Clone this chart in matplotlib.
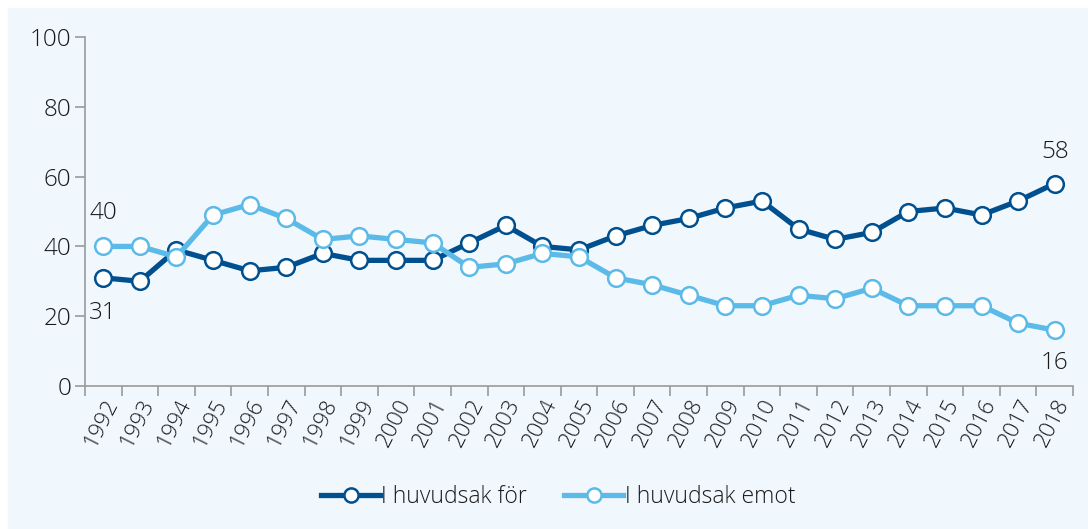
import numpy as np
import matplotlib.pyplot as plt

years = [str(y) for y in range(1992, 2019)]
for_values = [31, 30, 39, 36, 33, 34, 38, 36, 36, 36, 41, 46, 40, 39, 43, 46,
              48, 51, 53, 45, 42, 44, 50, 51, 49, 53, 58]
emot_values = [40, 40, 37, 49, 52, 48, 42, 43, 42, 41, 34, 35, 38, 37, 31, 29,
               26, 23, 23, 26, 25, 28, 23, 23, 23, 18, 16]
series_names = ["I huvudsak för", "I huvudsak emot"]

DARK = "#00508F"
LIGHT = "#5CBAE8"
BG = "#F0F8FE"
GRAY = "#9A9A9A"

plt.rcParams['font.family'] = ['Open Sans', 'DejaVu Sans']
plt.rcParams['font.weight'] = 'light'
plt.rcParams['text.color'] = '#1A1A1A'
plt.rcParams['xtick.color'] = '#1A1A1A'
plt.rcParams['ytick.color'] = '#1A1A1A'

fig = plt.figure(figsize=(10.88, 5.29), dpi=100, facecolor="white")
# light blue panel behind everything, with a small white margin top/left
fig.patches.append(plt.Rectangle((8 / 1088, 0), 1, 1 - 8 / 529,
                                 transform=fig.transFigure, color=BG, zorder=-10))

ax = fig.add_axes([85 / 1088, 1 - 386 / 529, (1073 - 85) / 1088, (386 - 37) / 529])
ax.patch.set_alpha(0)

x = np.arange(len(years))
for vals, col, name in [(for_values, DARK, series_names[0]),
                        (emot_values, LIGHT, series_names[1])]:
    ax.plot(x, vals, color=col, lw=3.8, marker="o", ms=12,
            mfc="white", mec=col, mew=1.8, label=name, clip_on=False)

ax.set_xlim(-0.5, len(years) - 0.5)
ax.set_ylim(0, 100)
ax.set_yticks(range(0, 101, 20))

# ticks on category boundaries, labels at centers
ax.set_xticks(np.arange(-0.5, len(years), 1))
ax.set_xticklabels([])
ax.set_xticks(x, minor=True)
ax.set_xticklabels(years, minor=True, rotation=63, ha="right",
                   rotation_mode="anchor", fontsize=16)
ax.tick_params(axis="x", which="minor", length=0, pad=7)
ax.tick_params(axis="x", which="major", length=7, width=1.2, color=GRAY)
ax.tick_params(axis="y", length=7, width=1.2, color=GRAY, labelsize=17.5, pad=3)

for s in ["top", "right"]:
    ax.spines[s].set_visible(False)
for s in ["left", "bottom"]:
    ax.spines[s].set_color(GRAY)
    ax.spines[s].set_linewidth(1.2)

# end labels
fs = 17.5
ax.annotate(str(emot_values[0]), (x[0], emot_values[0]), xytext=(0, 24),
            textcoords="offset points", ha="center", va="center", fontsize=fs)
ax.annotate(str(for_values[0]), (x[0], for_values[0]), xytext=(0, -25),
            textcoords="offset points", ha="center", va="center", fontsize=fs)
ax.annotate(str(for_values[-1]), (x[-1], for_values[-1]), xytext=(0, 23),
            textcoords="offset points", ha="center", va="center", fontsize=fs)
ax.annotate(str(emot_values[-1]), (x[-1], emot_values[-1]), xytext=(0, -24),
            textcoords="offset points", ha="center", va="center", fontsize=fs)

fig.legend(loc="center", bbox_to_anchor=(558 / 1088, 1 - 497 / 529), ncol=2,
           frameon=False, fontsize=16.5, handlelength=2.6, handletextpad=0.05,
           columnspacing=1.6, markerscale=0.85)

fig.savefig("out.png", dpi=100, facecolor=fig.get_facecolor())
